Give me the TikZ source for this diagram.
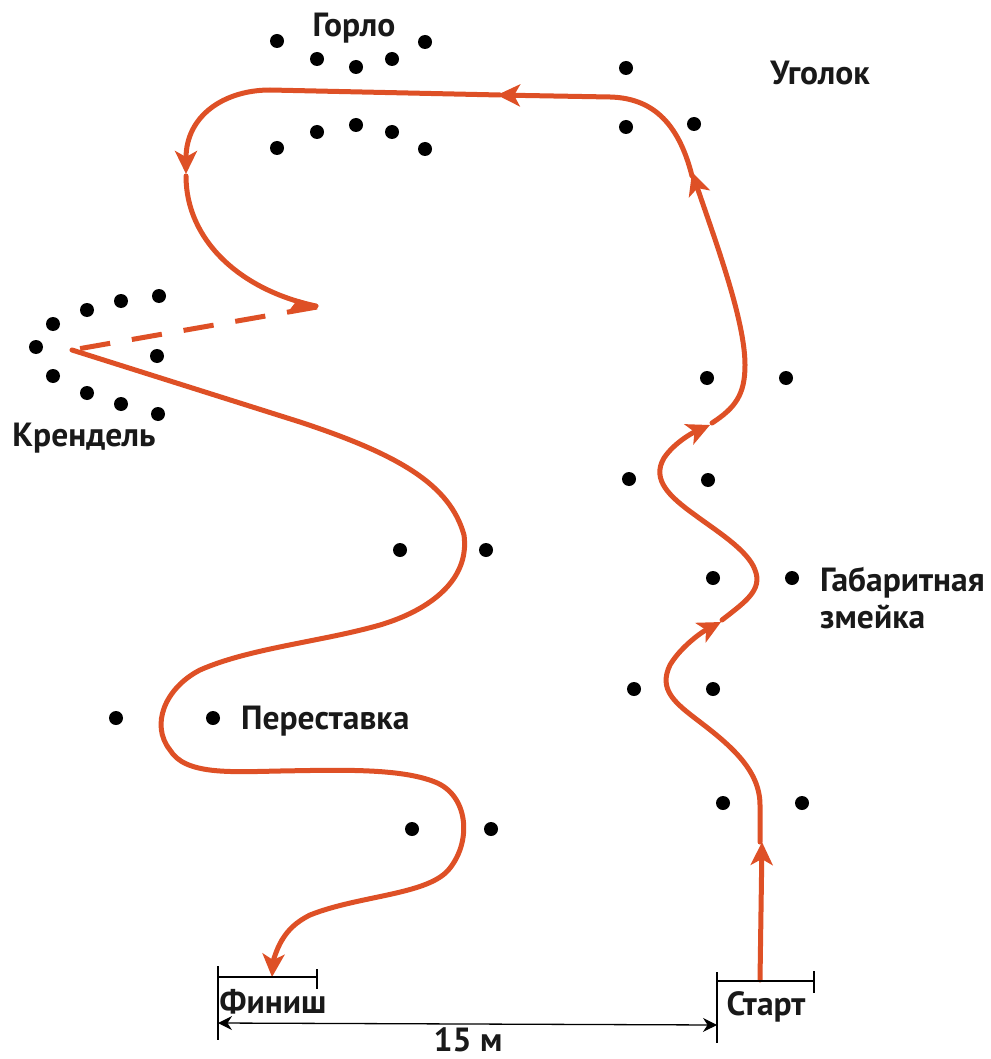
\documentclass[tikz,border=0pt]{standalone}
\usepackage{fontspec}
\setmainfont{PT Sans}
\usetikzlibrary{arrows.meta}
\definecolor{route}{RGB}{222,80,38}
\tikzset{
  x=1pt,y=-1pt,
  cone/.style={circle,fill=black,inner sep=0pt,minimum size=14pt},
  lbl/.style={font=\bfseries\fontsize{33.5}{38}\selectfont,inner sep=0pt,text=black!90},
  routeline/.style={draw=route,line width=5pt,line cap=round,line join=round},
  routearrow/.style={routeline,-{Stealth[length=23pt,width=22pt,inset=6pt]}},
  gate/.style={draw=black,line width=1.3pt},
}
\newcommand{\cones}[1]{\foreach \cx/\cy in {#1}{\node[cone] at (\cx,\cy) {};}}
\begin{document}
\begin{tikzpicture}
\useasboundingbox (0,0) rectangle (990,1059);
% cones
\cones{277/41,317/59,356/67,392/59,425/42,277/148,317/132,356/125,392/132,425/149,
 626/68,626/127,694/124,707/378,786/378,629/479,708/480,713/578,792/578,634/689,713/689,723/803,802/803,
 159/296,121/301,87/310,53/324,36/347,53/376,87/393,121/404,158/414,157/356,
 400/550,486/550,116/718,213/718,412/829,491/829}
% route
\draw[routearrow] (760,980) -- (762,842);
\draw[routearrow] (760,842) -- (760,805) .. controls (760,770) and (730,745) .. (700,722) .. controls (675,703) and (658,690) .. (670,665) .. controls (680,648) and (700,633) .. (721,622);
\draw[routearrow] (722,620) .. controls (745,602) and (763,590) .. (755,570) .. controls (748,550) and (715,530) .. (695,515) .. controls (670,497) and (651,480) .. (664,458) .. controls (674,443) and (692,433) .. (710,425);
\draw[routearrow] (712,423) .. controls (735,408) and (745,395) .. (745,365) .. controls (745,320) and (715,240) .. (692,172);
\draw[routearrow] (692,176) .. controls (678,120) and (650,98) .. (610,97) -- (497,95);
\draw[routearrow] (500,95) -- (270,90) .. controls (225,90) and (186,115) .. (186,174);
\draw[routeline] (186,176) .. controls (186,240) and (240,290) .. (316,306);
\fill[route] (319,306) -- (298,299) -- (288,312) -- cycle;
\draw[routeline,dash pattern=on 30.5pt off 22pt,line cap=butt] (317,307) -- (72,350);
\draw[routeline] (72,350) -- (300,422) .. controls (400,455) and (450,485) .. (464,535) .. controls (470,580) and (430,610) .. (380,625) .. controls (320,642) and (250,648) .. (200,670) .. controls (165,688) and (150,725) .. (170,750) .. controls (185,775) and (230,772) .. (280,771) .. controls (340,770) and (400,768) .. (435,782) .. controls (468,795) and (472,840) .. (450,868) .. controls (430,895) and (360,895) .. (310,915) .. controls (296,922) and (288,930) .. (282,940);
\draw[routearrow] (282,940) .. controls (276,950) and (273,962) .. (272,977);
% gates
\draw[gate] (218,966) -- (218,1040);
\draw[gate] (218,977) -- (317,977);
\draw[gate] (317,969) -- (317,989);
\draw[gate] (717,972) -- (717,1043);
\draw[gate] (717,981) -- (814,981);
\draw[gate] (814,971) -- (814,993);
\coordinate (fin) at (218,1023);
\coordinate (sta) at (717,1025);
\draw[gate,{Stealth[length=14pt,width=14pt]}-{Stealth[length=14pt,width=14pt]}] (fin) -- (sta);
% labels
\node[lbl,anchor=base] (l1) at (354,37) {Горло};
\node[lbl,anchor=base] (l2) at (820,85) {Уголок};
\node[lbl,anchor=base] (l3) at (84,446) {Крендель};
\node[lbl,anchor=base west] (l4) at (820,591) {Габаритная};
\node[lbl,anchor=base west] (l5) at (820,628) {змейка};
\node[lbl,anchor=base west] (l6) at (241,729) {Переставка};
\node[lbl,anchor=base] (l7) at (273,1013) {Финиш};
\node[lbl,anchor=base] (l8) at (766,1015) {Старт};
\node[lbl,anchor=base] (l9) at (468,1051) {15 м};
\end{tikzpicture}
\end{document}
